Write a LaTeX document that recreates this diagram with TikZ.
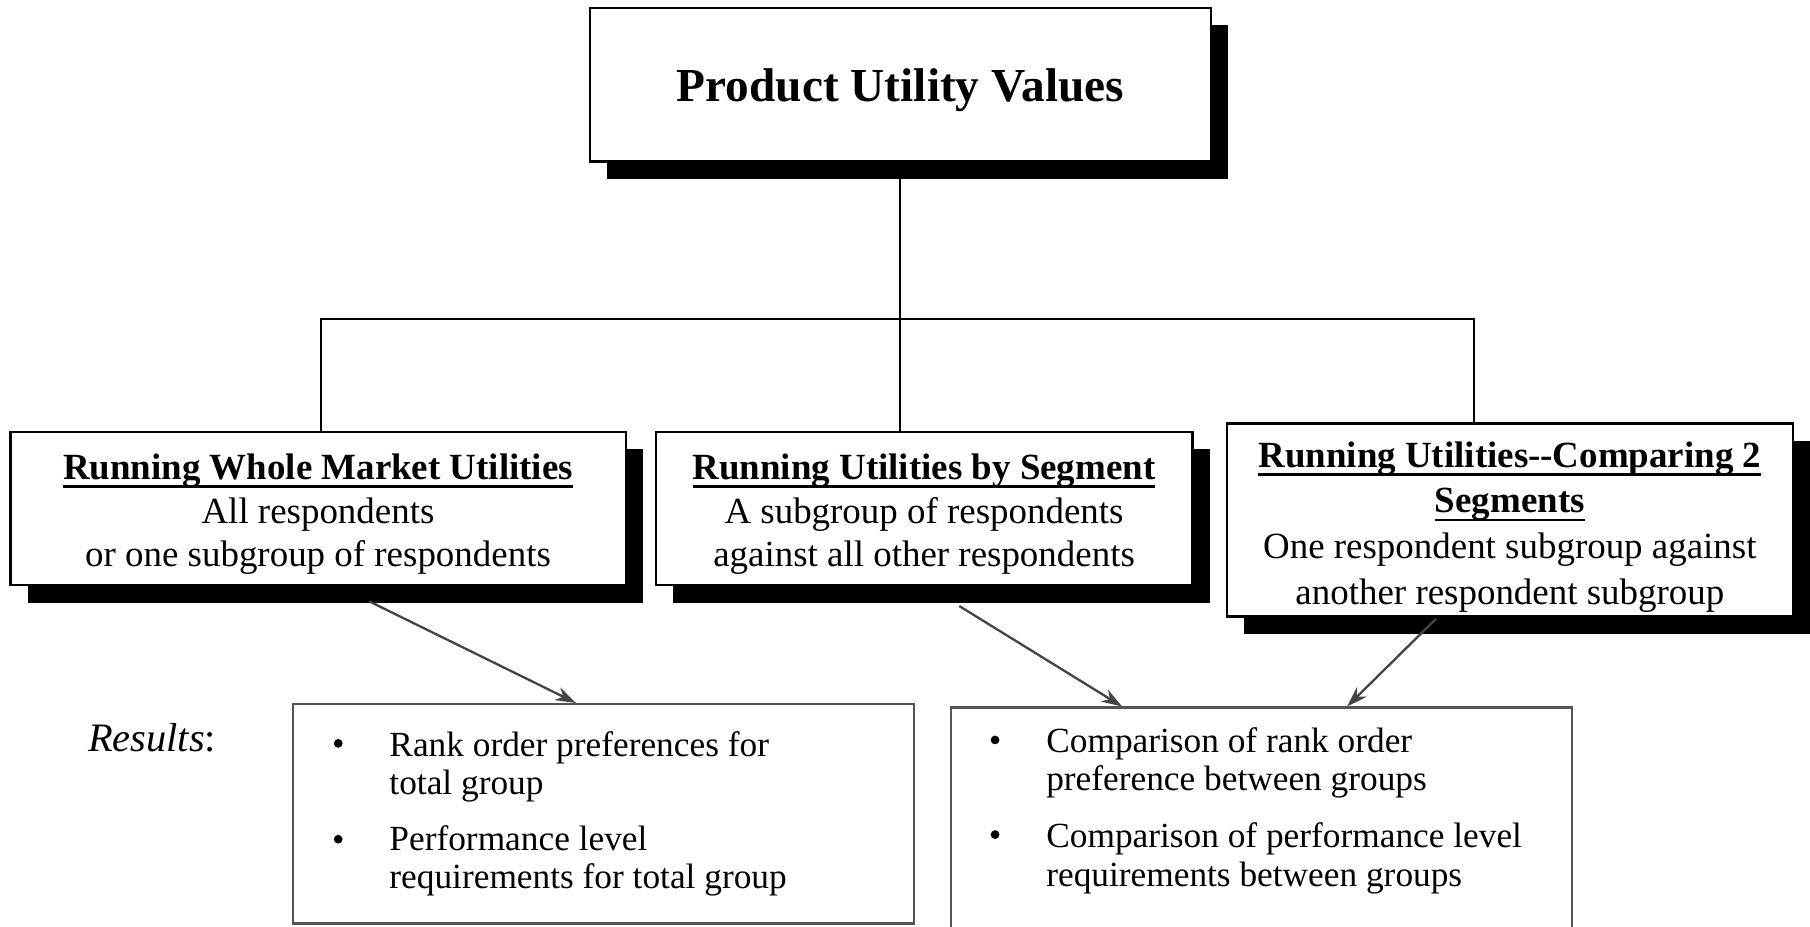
\documentclass[tikz,border=0pt]{standalone}
\usepackage{fontspec}
\setmainfont{Liberation Serif}
\usetikzlibrary{shadows,arrows.meta,calc}
\newcommand\ulh[1]{\setbox0=\hbox{#1}\rlap{\rule[-3.6pt]{\wd0}{1pt}}\box0}
\definecolor{arrgray}{HTML}{444444}
\definecolor{boxgray}{HTML}{555555}
\tikzset{
  shbox/.style={draw, line width=1pt, fill=white, inner sep=0pt,
    drop shadow={shadow xshift=7.5pt, shadow yshift=-7.5pt, fill=black, opacity=1}},
  hdr/.style={inner sep=0pt, align=center, font=\fontsize{16}{19}\selectfont},
  resbox/.style={draw=boxgray, line width=1pt, inner sep=0pt, minimum width=269pt},
  tree/.style={line width=0.8pt},
  arr/.style={draw=arrgray, line width=1pt, -{Stealth[length=9pt,width=6pt]}, fill=arrgray},
  bul/.style={circle, fill=black, inner sep=0pt, minimum size=3.8pt},
  ln/.style={anchor=base west, inner sep=0pt, font=\fontsize{15.3}{18}\selectfont}
}
\begin{document}
\begin{tikzpicture}[x=0.5pt,y=-0.5pt]
\useasboundingbox (0,0) rectangle (1568,802.2);
% top box
\node[shbox, minimum width=269pt, minimum height=66.5pt] (top) at (780,73.5) {};
\node[hdr, font=\fontsize{20.5}{24}\selectfont\bfseries] (ttop) at ([yshift=-2.5pt]top.center) {Product Utility Values};
% three boxes
\node[shbox, minimum width=266.5pt, minimum height=66.5pt] (b1) at (275.5,440.5) {};
\node[hdr] (t1) at ([yshift=-2.5pt]b1.center)
  {\textbf{\ulh{Running Whole Market Utilities}}\\All respondents\\or one subgroup of respondents};
\node[shbox, minimum width=232.5pt, minimum height=66.5pt] (b2) at (800.5,440.5) {};
\node[hdr] (t2) at ([yshift=-2.5pt]b2.center)
  {\textbf{\ulh{Running Utilities by Segment}}\\A subgroup of respondents\\against all other respondents};
\node[shbox, minimum width=245pt, minimum height=83.5pt] (b3) at (1308,450.5) {};
\node[hdr, font=\fontsize{16}{19.8}\selectfont] (t3) at ([yshift=-3pt]b3.center)
  {\textbf{\ulh{Running Utilities{-}{-}Comparing 2}}\\\textbf{\ulh{Segments}}\\One respondent subgroup against\\another respondent subgroup};
% tree connectors
\coordinate (j1) at (278,276);
\coordinate (j3) at (1277,276);
\draw[tree] (top.south) -- (top.south |- b2.north);
\draw[tree] (j1 |- b1.north) -- (j1) -- (j3) -- (j3 |- b3.north);
% result boxes
\node[resbox, minimum height=95pt] (bL) at (523,705) {};
\node[resbox, minimum height=110pt] (bR) at (1093,723) {};
% arrows
\draw[arr] ([xshift=22.25pt,yshift=-6.5pt]b1.south) -- ([xshift=123pt]bL.north west);
\draw[arr] ([xshift=15.25pt,yshift=-8.5pt]b2.south) -- ([xshift=74.5pt]bR.north west);
\draw[arr] ([xshift=-32pt,yshift=-0.5pt]b3.south) -- ([xshift=172pt]bR.north west);
% results label
\node[anchor=base west, inner sep=0pt, font=\fontsize{17.5}{20}\selectfont] (res) at (76,651) {\textit{Results}:};
% left bullets
\node[bul] (lb1) at (293,644) {};
\node[ln] (l11) at (337,655) {Rank order preferences for};
\node[ln] (l12) at (337,688) {total group};
\node[bul] (lb2) at (293,727) {};
\node[ln] (l21) at (337,737) {Performance level};
\node[ln] (l22) at (337,770) {requirements for total group};
% right bullets
\node[bul] (rb1) at (862,641) {};
\node[ln] (r11) at (906,652) {Comparison of rank order};
\node[ln] (r12) at (906,685) {preference between groups};
\node[bul] (rb2) at (862,723) {};
\node[ln] (r21) at (906,734) {Comparison of performance level};
\node[ln] (r22) at (906,768) {requirements between groups};
\end{tikzpicture}
\end{document}
